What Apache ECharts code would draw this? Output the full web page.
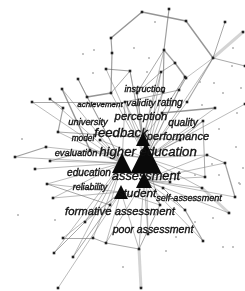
<!DOCTYPE html>
<html>
<head>
<meta charset="utf-8">
<script src="https://cdn.jsdelivr.net/npm/echarts@6/dist/echarts.min.js"></script>
<style>
  html, body { margin: 0; padding: 0; background: #fff; }
  #chart { width: 245px; height: 291px; }
</style>
</head>
<body>
<div id="chart"></div>
<script>
// connected keyword nodes (layout coordinates)
const dotX = [142,169,186,111,112,164,175,186,213,225,243,161,106,130,78,62,50,32,87,111,63,58,15,46,50,35,47,53,85,63,54,73,58,93,106,139,141,148,203,229,235,202,205,225,207,215,187,185,179,203,185,163,245,245,137,163,125,162,100,170,110,160,90,180]
const dotY = [12,9,21,38,53,50,63,78,58,22,32,72,69,71,79,89,99,102,97,93,108,132,157,147,161,169,184,198,222,238,253,257,288,238,243,249,288,234,241,213,197,188,177,163,155,108,102,77,90,121,210,188,104,66,93,92,102,113,140,182,205,205,150,140]

// isolated nodes
const isoX = [83,94,93,155,134,149,147,233,232,200,214,241,223,202,237,219,236,212,239,243,219,195,213,223,18,55,123,166,176,195,240,233,22]
const isoY = [54,50,73,22,48,58,72,48,66,82,83,88,93,105,113,129,147,164,183,168,175,175,218,247,215,220,267,251,237,222,184,247,139]

// high-degree nodes (drawn as triangles)
const hubX = [146,122,144,121,143]
const hubY = [158,163,180,192,139]
const hubDegree = [31,20,16,14,14]

// term labels
const termNames = ['instruction','achievement','validity','rating','perception','university','quality','feedback','model','performance','evaluation','higher education','education','assessment','reliability','student','self-assessment','formative assessment','poor assessment']
const termX = [145,100,141,170,141,88,183,121,83,178,76,148,89,146,90,137,189,120,153]
const termY = [89,105,103,103,117,122,123,133,139,137,153,152,173,176,188,194,198,212,230]
const termSize = [9,8,9.6,10.2,11.3,9.4,10.2,13.2,8.3,11.1,9.4,13.2,10.1,12.8,8.9,11.8,9.1,11.3,10.6]

// edges between connected nodes [from, to, weight]
const dotEdges = [[3,0,2],[0,2,2],[2,8,2],[1,5,1.5],[5,6,1.5],[6,7,2],[5,55,1.5],[5,54,1],[3,4,1.5],[4,19,1.5],
  [8,9,1],[8,10,3],[8,53,1],[8,7,0.5],[8,46,1.2],[14,18,1],[15,62,2],[16,20,1],[18,19,2],[17,56,1],
  [20,21,1.5],[21,63,1],[22,23,1.5],[24,62,1],[26,60,1],[28,30,1],[29,33,1],[31,60,1],[33,34,1],[34,35,1],
  [35,36,3],[35,61,1],[38,50,1.5],[50,51,1],[39,41,3],[40,43,1.5],[43,44,1],[42,49,1],[45,57,2],[49,63,1],
  [12,13,1.5],[13,19,1],[11,54,1],[47,57,1],[48,56,1],[6,11,1],[7,48,1]]

// edges from each high-degree node
const hubEdges = [
  [54,55,56,57,11,13,46,49,44,63,52,42,41,59,61,37,62,58,23,19,48,47,8,45,12],
  [62,58,24,25,26,27,28,60,33,21,18,17,15,56,31,30,16,14,22],
  [51,59,61,35,37,50,38,41,42,40,39,34,43,44],
  [60,32,29,34,35,28,27,61,26],
  [54,55,56,57,13,11,5]
]

const nodes = []
dotX.forEach((x, i) => nodes.push({
  id: 'd' + i, value: [x, dotY[i]], symbol: 'rect', symbolSize: 2.6,
  itemStyle: { color: '#222' }
}))
isoX.forEach((x, i) => nodes.push({
  id: 'i' + i, value: [x, isoY[i]], symbol: 'circle', symbolSize: 2,
  itemStyle: { color: '#b0b0b0' }
}))
hubX.forEach((x, i) => nodes.push({
  id: 'h' + i, value: [x, hubY[i]], symbol: 'triangle', symbolSize: hubDegree[i],
  itemStyle: { color: '#0a0a0a' }
}))
termNames.forEach((t, i) => nodes.push({
  id: 't' + i, name: t, value: [termX[i], termY[i]], symbol: 'circle', symbolSize: 1,
  itemStyle: { color: 'rgba(0,0,0,0)' },
  label: {
    show: true, position: 'inside', formatter: t,
    fontFamily: 'Liberation Sans', fontStyle: 'italic', fontSize: termSize[i], color: '#111',
    textBorderColor: '#111', textBorderWidth: 0.35
  }
}))

const links = []
dotEdges.forEach(([a, b, w]) => links.push({
  source: 'd' + a, target: 'd' + b,
  lineStyle: { width: w >= 3 ? 3 : 0.6 + w * 0.4, opacity: w >= 3 ? 0.28 : 0.45 + w * 0.12, color: '#666' }
}))
hubEdges.forEach((list, h) => list.forEach(d => links.push({
  source: 'h' + h, target: 'd' + d,
  lineStyle: { width: 1, opacity: 0.5, color: '#777' }
})))

const chart = echarts.init(document.getElementById('chart'))
chart.setOption({
  animation: false,
  grid: { left: 0, right: 0, top: 0, bottom: 0 },
  xAxis: { type: 'value', min: 0, max: 245, show: false },
  yAxis: { type: 'value', min: 0, max: 291, inverse: true, show: false },
  series: [{
    type: 'graph',
    coordinateSystem: 'cartesian2d',
    layout: 'none',
    silent: true,
    data: nodes,
    links: links,
    edgeSymbol: ['none', 'none']
  }]
})
</script>
</body>
</html>
